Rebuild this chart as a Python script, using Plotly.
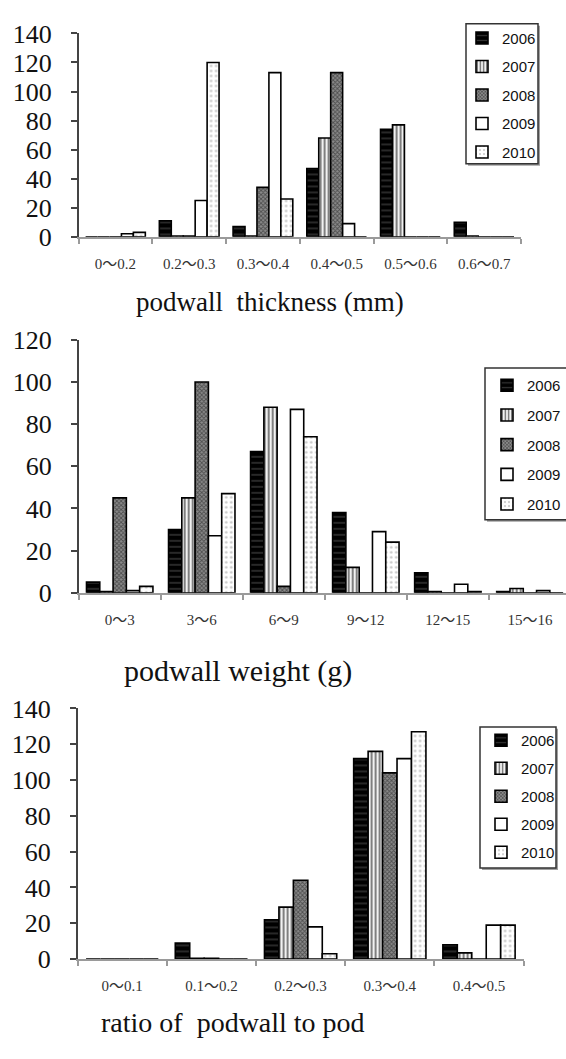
import plotly.graph_objects as go

W, H = 566, 1059

years = ["2006", "2007", "2008", "2009", "2010"]

# Chart 1: podwall thickness (mm)
thick_cats = ["0～0.2", "0.2～0.3", "0.3～0.4", "0.4～0.5", "0.5～0.6", "0.6～0.7"]
thick_2006 = [0, 11, 7, 47, 74, 10]
thick_2007 = [0, 0.5, 0.5, 68, 77, 0.5]
thick_2008 = [0, 0.5, 34, 113, 0, 0]
thick_2009 = [2, 25, 113, 9, 0, 0]
thick_2010 = [3, 120, 26, 0, 0, 0]

# Chart 2: podwall weight (g)
weight_cats = ["0～3", "3～6", "6～9", "9～12", "12～15", "15～16"]
weight_2006 = [5, 30, 67, 38, 9.5, 0.5]
weight_2007 = [0.5, 45, 88, 12, 0.5, 2]
weight_2008 = [45, 100, 3, 0, 0, 0]
weight_2009 = [1, 27, 87, 29, 4, 1]
weight_2010 = [3, 47, 74, 24, 0.5, 0]

# Chart 3: ratio of podwall to pod
ratio_cats = ["0～0.1", "0.1～0.2", "0.2～0.3", "0.3～0.4", "0.4～0.5"]
ratio_2006 = [0, 9, 22, 112, 8]
ratio_2007 = [0, 0.5, 29, 116, 3.5]
ratio_2008 = [0, 0.5, 44, 104, 0]
ratio_2009 = [0, 0, 18, 112, 19]
ratio_2010 = [0, 0, 3, 127, 19]

patterns = {
    "2006": dict(color="#000000", pattern=dict(shape="-", bgcolor="#000000", fgcolor="#6a6a6a", size=6, solidity=0.25, fillmode="overlay")),
    "2007": dict(color="#ffffff", pattern=dict(shape="|", bgcolor="#ffffff", fgcolor="#000000", size=4, solidity=0.55, fillmode="overlay")),
    "2008": dict(color="#666666", pattern=dict(shape="x", bgcolor="#8a8a8a", fgcolor="#111111", size=3, solidity=0.5, fillmode="overlay")),
    "2009": dict(color="#ffffff"),
    "2010": dict(color="#ffffff", pattern=dict(shape=".", bgcolor="#ffffff", fgcolor="#8a8a8a", size=5, solidity=0.2, fillmode="overlay")),
}

def px_x(p):
    return p / W

def px_y(p):
    return 1 - p / H

fig = go.Figure()

charts = [
    ("x", "y", "legend", thick_cats, [thick_2006, thick_2007, thick_2008, thick_2009, thick_2010]),
    ("x2", "y2", "legend2", weight_cats, [weight_2006, weight_2007, weight_2008, weight_2009, weight_2010]),
    ("x3", "y3", "legend3", ratio_cats, [ratio_2006, ratio_2007, ratio_2008, ratio_2009, ratio_2010]),
]

for xa, ya, lg, cats, series in charts:
    for yr, vals in zip(years, series):
        m = dict(patterns[yr])
        m["line"] = dict(color="#000000", width=1.6)
        fig.add_trace(go.Bar(
            x=cats, y=vals, name=yr, xaxis=xa, yaxis=ya, legend=lg,
            legendgroup=lg + yr, marker=m, hoverinfo="x+y+name",
        ))

tick_font_y = dict(family="Liberation Serif, Times New Roman, serif", size=26, color="#111")
tick_font_x = dict(family="Liberation Serif, Noto Sans CJK SC, serif", size=15, color="#333")

def yaxis(domain, rng, anchor):
    return dict(domain=domain, range=rng, dtick=20, anchor=anchor,
                showline=True, linecolor="#444", linewidth=1.5,
                ticks="outside", ticklen=6, tickcolor="#444", tickwidth=1.5,
                showgrid=False, zeroline=False, tickfont=tick_font_y,
                ticklabelstandoff=14, fixedrange=True)

def xaxis(domain, anchor, rng=None, fs=15, standoff=12):
    d = dict(domain=domain, anchor=anchor, type="category",
             showline=True, linecolor="#9a9a9a", linewidth=2,
             ticks="outside", tickson="boundaries", ticklen=5, tickcolor="#9a9a9a", tickwidth=1.5,
             showgrid=False, zeroline=False,
             tickfont=dict(tick_font_x, size=fs), ticklabelstandoff=standoff, fixedrange=True)
    if rng is not None:
        d["range"] = rng
    return d

fig.update_layout(
    width=W, height=H,
    margin=dict(l=0, r=0, t=0, b=0),
    paper_bgcolor="white", plot_bgcolor="white",
    barmode="group", bargap=0.19, bargroupgap=0,
    xaxis=xaxis([px_x(78.6), px_x(521)], "y", fs=15, standoff=12),
    yaxis=yaxis([px_y(229), px_y(20)], [0, 140], "x"),
    xaxis2=xaxis([px_x(78.7), 1.0], "y2", rng=[-0.5, 5.44], fs=15, standoff=12),
    yaxis2=yaxis([px_y(595), px_y(335)], [0, 120], "x2"),
    xaxis3=xaxis([px_x(77.6), px_x(523.6)], "y3", fs=15, standoff=12),
    yaxis3=yaxis([px_y(971.7), px_y(714)], [0, 140], "x3"),
)

# legend boxes (frame + shadow), in pixel positions
boxes = [
    (466, 10, 538, 154),
    (485, 364, 572, 520),
    (480, 733, 556, 878),
]
for x0, y0, x1, y1 in boxes:
    fig.add_shape(type="rect", xref="paper", yref="paper",
                  x0=px_x(x0 + 2), x1=px_x(x1 + 2), y0=px_y(y1 + 2), y1=px_y(y0 + 2),
                  line=dict(width=0), fillcolor="#a0a0a0", layer="above")
    fig.add_shape(type="rect", xref="paper", yref="paper",
                  x0=px_x(x0), x1=px_x(x1), y0=px_y(y1), y1=px_y(y0),
                  line=dict(color="#333", width=1.5), fillcolor="white", layer="above")

legend_common = dict(
    bgcolor="rgba(0,0,0,0)", borderwidth=0,
    font=dict(family="Liberation Sans, Arial, sans-serif", size=15, color="#111"),
    xanchor="left", yanchor="top", traceorder="grouped", tracegroupgap=6,
    itemclick=False, itemdoubleclick=False,
)
fig.update_layout(
    legend=dict(legend_common, x=px_x(462), y=px_y(8)),
    legend2=dict(legend_common, x=px_x(487), y=px_y(365), tracegroupgap=7.2),
    legend3=dict(legend_common, x=px_x(481), y=px_y(730), tracegroupgap=5.5),
)

titles = [
    ("podwall  thickness (mm)", 270, 296, 27),
    ("podwall weight (g)", 238, 675, 30),
    ("ratio of  podwall to pod", 233, 1037, 28),
]
for txt, cx, cy, fs in titles:
    fig.add_annotation(text=txt, x=px_x(cx), y=px_y(cy), xref="paper", yref="paper",
                       xanchor="center", yanchor="middle", showarrow=False,
                       font=dict(family="Liberation Serif, Times New Roman, serif", size=fs, color="#111"))

fig.write_html("out.html", config={"displayModeBar": False},
               post_script="document.body.style.margin='0px';")
